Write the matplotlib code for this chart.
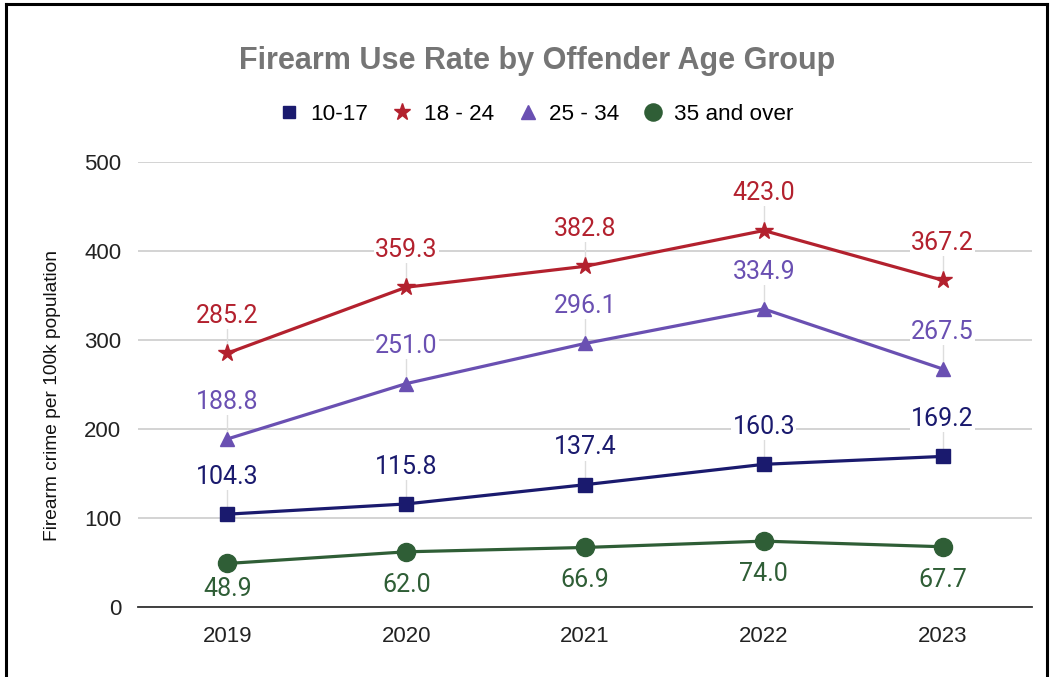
import matplotlib
matplotlib.use("Agg")
import matplotlib.pyplot as plt
from matplotlib.lines import Line2D

years = ["2019", "2020", "2021", "2022", "2023"]
age_10_17 = [104.3, 115.8, 137.4, 160.3, 169.2]
age_18_24 = [285.2, 359.3, 382.8, 423.0, 367.2]
age_25_34 = [188.8, 251.0, 296.1, 334.9, 267.5]
age_35_over = [48.9, 62.0, 66.9, 74.0, 67.7]
series_names = ["10-17", "18 - 24", "25 - 34", "35 and over"]
y_ticks = [0, 100, 200, 300, 400, 500]

W, H = 1052, 677
fig = plt.figure(figsize=(W / 100, H / 100), dpi=100)
ax = fig.add_axes([138 / W, 1 - 607 / H, (1032 - 138) / W, (607 - 162) / H])

styles = [
    dict(data=age_10_17, color="#1a1a6e", marker="s", ms=9.5, above=True),
    dict(data=age_18_24, color="#b3212e", marker="*", ms=13, above=True),
    dict(data=age_25_34, color="#6a50b2", marker="^", ms=10.5, above=True),
    dict(data=age_35_over, color="#2f5e36", marker="o", ms=13, above=False),
]

x = list(range(len(years)))
label_font = dict(family=["Roboto", "DejaVu Sans"], size=18)

for s in styles:
    ax.plot(x, s["data"], color=s["color"], lw=2.3, marker=s["marker"],
            ms=s["ms"], mec=s["color"], mfc=s["color"], zorder=4,
            solid_joinstyle="round")
    for xi, v in zip(x, s["data"]):
        if s["above"]:
            ty = v + 42
            ax.plot([xi, xi], [v + 6, ty - 10], color="#dddddd", lw=1, zorder=2)
            ax.text(xi, ty, f"{v:.1f}", color=s["color"], ha="center",
                    va="center", zorder=3, fontdict=label_font,
                    bbox=dict(boxstyle="square,pad=0.05", fc="white", ec="none"))
        else:
            ty = max(v - 37, 20)
            ax.text(xi, ty, f"{v:.1f}", color=s["color"], ha="center",
                    va="center", zorder=3, fontdict=label_font)

ax.set_xlim(-0.5, len(years) - 0.5)
ax.set_ylim(0, 500)
ax.set_xticks(x)
ax.set_xticklabels(years)
ax.set_yticks(y_ticks)
ax.grid(axis="y", color="#cccccc", lw=1.2, zorder=0)
ax.set_axisbelow(True)
for side in ["top", "right", "left"]:
    ax.spines[side].set_visible(False)
ax.spines["bottom"].set_color("#333333")
ax.spines["bottom"].set_linewidth(1.3)
ax.spines["bottom"].set_zorder(1)
ax.tick_params(axis="both", length=0, labelsize=16, labelcolor="#222222",
               labelfontfamily="Liberation Sans")
ax.tick_params(axis="y", pad=12)
ax.tick_params(axis="x", pad=14)
ax.set_ylabel("Firearm crime per 100k population", fontsize=13.8,
              family="Liberation Sans", color="#111111")
ax.yaxis.set_label_coords(-77 / (1032 - 138), 0.475)

fig.text(537 / W, 1 - 61 / H, "Firearm Use Rate by Offender Age Group",
         ha="center", va="center", fontsize=22, fontweight="bold",
         color="#757575", family="Liberation Sans")

handles = [Line2D([], [], ls="none", marker=s["marker"], color=s["color"],
                  ms=s["ms"] * 0.95) for s in styles]
fig.legend(handles, series_names, loc="center", ncol=4,
           bbox_to_anchor=(537 / W, 1 - 114 / H), frameon=False,
           prop=dict(family="Liberation Sans", size=16.2),
           handlelength=0.8, handletextpad=0.55, columnspacing=1.1)

# frame around the chart area (open at the bottom)
fc = "black"
fig.add_artist(Line2D([6 / W, 6 / W], [0, 1 - 4 / H], color=fc, lw=2.2,
                      transform=fig.transFigure))
fig.add_artist(Line2D([1047 / W, 1047 / W], [0, 1 - 4 / H], color=fc, lw=2.2,
                      transform=fig.transFigure))
fig.add_artist(Line2D([6 / W, 1047 / W], [1 - 4 / H, 1 - 4 / H], color=fc,
                      lw=2.2, transform=fig.transFigure))

fig.savefig("out.png", dpi=100, facecolor="white")
